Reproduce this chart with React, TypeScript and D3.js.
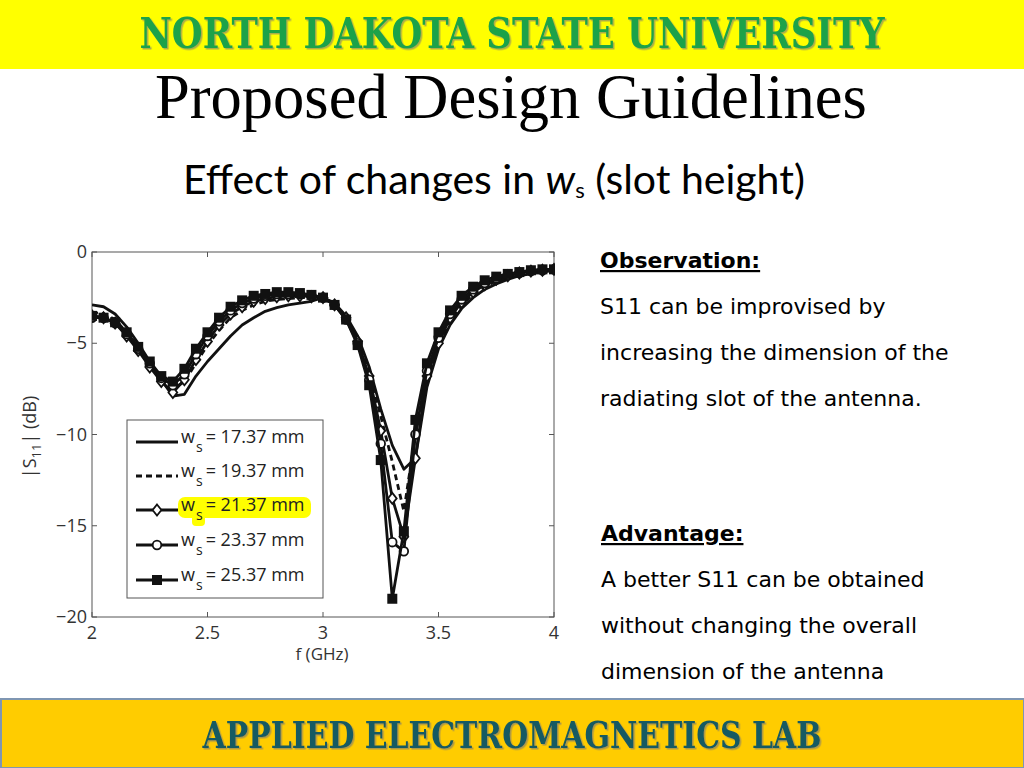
import React from 'react';
import * as d3 from 'd3';

// ---- data ----
const freqGHz = [2.00, 2.05, 2.10, 2.15, 2.20, 2.25, 2.30, 2.35, 2.40, 2.45, 2.50, 2.55, 2.60, 2.65, 2.70, 2.75, 2.80, 2.85, 2.90, 2.95, 3.00, 3.05, 3.10, 3.15, 3.20, 3.25, 3.30, 3.35, 3.40, 3.45, 3.50, 3.55, 3.60, 3.65, 3.70, 3.75, 3.80, 3.85, 3.90, 3.95, 4.00];

const s11_ws1737 = [-2.9, -3.0, -3.4, -4.1, -5.0, -6.0, -7.0, -7.9, -7.8, -6.8, -6.0, -5.3, -4.6, -4.0, -3.6, -3.25, -3.05, -2.9, -2.8, -2.7, -2.5, -2.8, -3.5, -4.6, -6.3, -8.6, -10.6, -11.9, -11.3, -7.4, -5.3, -4.0, -3.1, -2.5, -2.05, -1.75, -1.5, -1.3, -1.2, -1.1, -1.0];
const s11_ws1937 = [-3.3, -3.4, -3.7, -4.4, -5.2, -6.1, -6.9, -7.5, -7.1, -6.1, -5.1, -4.3, -3.6, -3.2, -2.9, -2.7, -2.6, -2.55, -2.5, -2.5, -2.5, -2.85, -3.6, -4.8, -6.6, -9.0, -11.5, -14.2, -10.0, -7.0, -5.1, -3.8, -2.9, -2.3, -1.9, -1.6, -1.4, -1.25, -1.15, -1.05, -1.0];
const s11_ws2137 = [-3.5, -3.6, -3.9, -4.6, -5.4, -6.3, -7.1, -7.7, -7.0, -5.9, -4.9, -4.0, -3.4, -3.0, -2.7, -2.55, -2.45, -2.4, -2.4, -2.45, -2.5, -2.9, -3.6, -4.9, -6.8, -9.8, -13.5, -15.6, -11.3, -6.8, -5.0, -3.6, -2.75, -2.2, -1.8, -1.5, -1.3, -1.15, -1.05, -1.0, -0.95];
const s11_ws2337 = [-3.6, -3.6, -3.9, -4.5, -5.3, -6.1, -6.9, -7.3, -6.7, -5.6, -4.6, -3.8, -3.2, -2.8, -2.55, -2.4, -2.3, -2.3, -2.3, -2.4, -2.5, -2.9, -3.7, -5.0, -7.0, -10.5, -15.9, -16.4, -10.0, -6.5, -4.7, -3.4, -2.6, -2.05, -1.7, -1.45, -1.25, -1.15, -1.05, -1.0, -0.95];
const s11_ws2537 = [-3.5, -3.6, -3.85, -4.4, -5.2, -6.0, -6.8, -7.1, -6.4, -5.3, -4.4, -3.6, -3.0, -2.65, -2.4, -2.3, -2.2, -2.2, -2.25, -2.35, -2.5, -2.9, -3.7, -5.1, -7.3, -11.4, -19.0, -15.3, -9.2, -6.1, -4.4, -3.2, -2.4, -1.9, -1.55, -1.35, -1.2, -1.1, -1.0, -0.95, -0.95];

const legendValues = ['17.37', '19.37', '21.37', '23.37', '25.37'];
const xTicks = [2, 2.5, 3, 3.5, 4];
const xTickLabels = ['2', '2.5', '3', '3.5', '4'];
const yTicks = [0, -5, -10, -15, -20];
const yTickLabels = ['0', '\u22125', '\u221210', '\u221215', '\u221220'];

type Marker = 'none' | 'diamond' | 'circle' | 'square';
const seriesList: { values: number[]; dash: string | null; marker: Marker }[] = [
  { values: s11_ws1737, dash: null, marker: 'none' },
  { values: s11_ws1937, dash: '6,4', marker: 'none' },
  { values: s11_ws2137, dash: null, marker: 'diamond' },
  { values: s11_ws2337, dash: null, marker: 'circle' },
  { values: s11_ws2537, dash: null, marker: 'square' },
];

function MarkerShape({ type, cx, cy }: { type: Marker; cx: number; cy: number }) {
  if (type === 'diamond') {
    const r = 5.5;
    return <path d={`M${cx},${cy - r}L${cx + r * 0.8},${cy}L${cx},${cy + r}L${cx - r * 0.8},${cy}Z`} fill="#fff" stroke="#111" strokeWidth={1.8} />;
  }
  if (type === 'circle') {
    return <circle cx={cx} cy={cy} r={4.3} fill="#fff" stroke="#111" strokeWidth={1.8} />;
  }
  if (type === 'square') {
    return <rect x={cx - 5} y={cy - 5} width={10} height={10} fill="#111" />;
  }
  return null;
}

export default function App() {
  const x = d3.scaleLinear().domain([2, 4]).range([92, 554]);
  const y = d3.scaleLinear().domain([-20, 0]).range([617, 252]);
  const line = d3
    .line<number>()
    .x((_, i) => x(freqGHz[i]))
    .y((d) => y(d))
    .curve(d3.curveLinear);

  const axisColor = '#555';
  const tickFont = '"Open Sans", "DejaVu Sans", sans-serif';
  const rightFont = '"DejaVu Sans", sans-serif';

  const legendRowY = [442, 476, 510, 545, 580];

  return (
    <svg width={1024} height={768} style={{ position: 'absolute', left: 0, top: 0, background: '#fff' }}>
      <defs>
        <filter id="shadow" x="-5%" y="-20%" width="110%" height="140%">
          <feDropShadow dx="1.5" dy="1.5" stdDeviation="0.6" floodColor="#777" floodOpacity="0.6" />
        </filter>
        <clipPath id="plotclip">
          <rect x={92} y={252} width={463} height={366} />
        </clipPath>
      </defs>

      {/* header */}
      <rect x={0} y={0} width={1024} height={69} fill="#FFFF00" />
      <text x={512} y={48} textAnchor="middle" fontFamily='"DejaVu Serif Condensed", "DejaVu Serif", serif' fontWeight="bold" fontSize={43} fill="#1BA24A" textLength={745} lengthAdjust="spacingAndGlyphs" filter="url(#shadow)">
        NORTH DAKOTA STATE UNIVERSITY
      </text>

      {/* title */}
      <text x={155} y={118} fontFamily='"Liberation Serif", "Times New Roman", serif' fontSize={62.5} fill="#000">
        Proposed Design Guidelines
      </text>
      <text x={183} y={194} fontFamily='Lato, "Open Sans", sans-serif' fontSize={41} fill="#000">
        Effect of changes in <tspan fontStyle="italic">w</tspan>
        <tspan fontSize={22} dy={4}>s</tspan>
        <tspan dy={-4}> (slot height)</tspan>
      </text>

      {/* plot frame */}
      <rect x={92} y={252} width={462} height={365} fill="#fff" stroke={axisColor} strokeWidth={1} />
      {xTicks.map((t) => (
        <g key={'xt' + t}>
          <line x1={x(t)} x2={x(t)} y1={617} y2={612} stroke={axisColor} />
          <line x1={x(t)} x2={x(t)} y1={252} y2={257} stroke={axisColor} />
        </g>
      ))}
      {yTicks.map((t) => (
        <g key={'yt' + t}>
          <line x1={92} x2={97} y1={y(t)} y2={y(t)} stroke={axisColor} />
          <line x1={554} x2={549} y1={y(t)} y2={y(t)} stroke={axisColor} />
        </g>
      ))}
      {xTicks.map((t, i) => (
        <text key={'xl' + t} x={x(t)} y={639} textAnchor="middle" fontFamily={tickFont} fontSize={18} fill="#333">
          {xTickLabels[i]}
        </text>
      ))}
      {yTicks.map((t, i) => (
        <text key={'yl' + t} x={87} y={y(t) + 6} textAnchor="end" fontFamily={tickFont} fontSize={18} fill="#333">
          {yTickLabels[i]}
        </text>
      ))}
      <text x={322} y={660} textAnchor="middle" fontFamily={tickFont} fontSize={17} fill="#333">
        f (GHz)
      </text>
      <text transform="translate(36,437) rotate(-90)" textAnchor="middle" fontFamily={tickFont} fontSize={18} fill="#333">
        |S<tspan fontSize={13} dy={5}>11</tspan>
        <tspan dy={-5}>| (dB)</tspan>
      </text>

      {/* series */}
      <g clipPath="url(#plotclip)">
        {seriesList.map((s, si) => (
          <g key={'s' + si}>
            <path d={line(s.values) || ''} fill="none" stroke="#111" strokeWidth={2.8} strokeDasharray={s.dash || undefined} strokeLinejoin="round" />
            {s.marker !== 'none' &&
              s.values.map((v, i) => <MarkerShape key={i} type={s.marker} cx={x(freqGHz[i])} cy={y(v)} />)}
          </g>
        ))}
      </g>

      {/* legend */}
      <rect x={127} y={420} width={196} height={178} fill="#fff" stroke="#555" strokeWidth={1} />
      <rect x={178} y={497} width={133} height={21} rx={7} fill="#FFFF00" />
      <rect x={192} y={510} width={13} height={16} rx={4} fill="#FFFF00" />
      {seriesList.map((s, i) => (
        <g key={'lg' + i}>
          <line x1={136} x2={178} y1={legendRowY[i]} y2={legendRowY[i]} stroke="#111" strokeWidth={3} strokeDasharray={s.dash || undefined} />
          <MarkerShape type={s.marker} cx={157} cy={legendRowY[i]} />
          <text x={181} y={legendRowY[i] + 1} fontFamily={tickFont} fontSize={18} fill="#222">
            w
            <tspan fontSize={14} dx={1} dy={9}>s</tspan>
            <tspan dx={3} dy={-9}>= {legendValues[i]} mm</tspan>
          </text>
        </g>
      ))}

      {/* right text */}
      <g fontFamily={rightFont} fontSize={22} fill="#000">
        <text x={600} y={268} fontWeight="bold" textDecoration="underline">Observation:</text>
        <text x={600} y={314}>S11 can be improvised by</text>
        <text x={600} y={360}>increasing the dimension of the</text>
        <text x={600} y={406}>radiating slot of the antenna.</text>
        <text x={601} y={541} fontWeight="bold" textDecoration="underline">Advantage:</text>
        <text x={601} y={587}>A better S11 can be obtained</text>
        <text x={601} y={633}>without changing the overall</text>
        <text x={601} y={679}>dimension of the antenna</text>
      </g>

      {/* footer */}
      <rect x={1} y={699} width={1023} height={69} fill="#FFCC00" stroke="#7F96B2" strokeWidth={2} />
      <text x={512} y={748} textAnchor="middle" fontFamily='"DejaVu Serif Condensed", "DejaVu Serif", serif' fontWeight="bold" fontSize={38} fill="#175A62" textLength={619} lengthAdjust="spacingAndGlyphs" filter="url(#shadow)">
        APPLIED ELECTROMAGNETICS LAB
      </text>
    </svg>
  );
}
